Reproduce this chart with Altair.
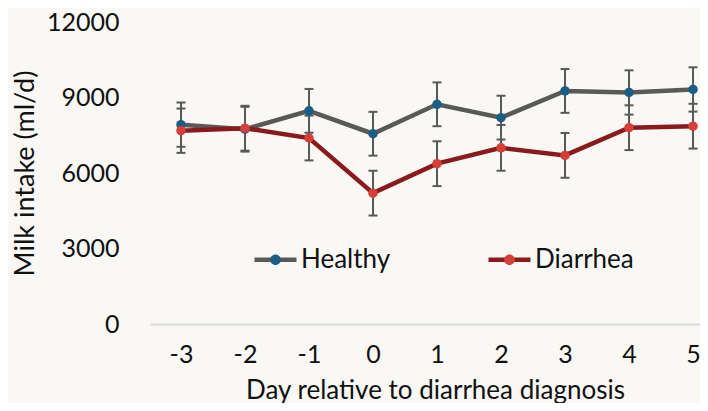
import altair as alt
import pandas as pd

days = [-3, -2, -1, 0, 1, 2, 3, 4, 5]
groups = ["Healthy", "Diarrhea"]
healthy_mean = [7920, 7740, 8470, 7560, 8730, 8200, 9260, 9200, 9320]
healthy_se = [880, 890, 870, 870, 870, 870, 870, 880, 880]
diarrhea_mean = [7680, 7780, 7390, 5200, 6370, 7000, 6700, 7800, 7860]
diarrhea_se = [880, 890, 890, 890, 890, 910, 890, 890, 890]
y_ticks = [0, 3000, 6000, 9000, 12000]

line_colors = ["#595959", "#8B1A1C"]
point_colors = ["#1B5E85", "#D43F3A"]
FONT = "Lato"
FS = 25
TFS = 26
TXT = "#111111"

rows = []
for g, means, ses in [("Healthy", healthy_mean, healthy_se),
                      ("Diarrhea", diarrhea_mean, diarrhea_se)]:
    for d, m, s in zip(days, means, ses):
        rows.append({"day": d, "group": g, "group_f": g, "mean": m, "se": s})
df = pd.DataFrame(rows)

base = alt.Chart(df).transform_calculate(
    lo="datum.mean - datum.se", hi="datum.mean + datum.se"
)

x = alt.X(
    "day:Q",
    scale=alt.Scale(domain=[-3.484, 5.109], nice=False, zero=False),
    axis=alt.Axis(
        values=days, labelExpr="'' + datum.value", title="Day relative to diarrhea diagnosis",
        grid=False, ticks=False, tickSize=0, domainColor="#D9D9D9", domainWidth=2,
        labelFont=FONT, labelFontSize=FS, labelColor=TXT, labelPadding=18,
        titleFont=FONT, titleFontSize=TFS, titleFontWeight="normal", titleColor=TXT,
        titleX=285, titleY=74, titleBaseline="alphabetic", titleAnchor="middle",
    ),
)
yscale = alt.Scale(domain=[0, 12000], nice=False, zero=True)
yaxis = alt.Axis(
    values=y_ticks, labelExpr="'' + datum.value", title="Milk intake (ml/d)", grid=False,
    ticks=False, tickSize=0, domain=False,
    labelFont=FONT, labelFontSize=FS, labelColor=TXT, labelPadding=31,
    titleFont=FONT, titleFontSize=TFS + 1, titleFontWeight="normal", titleColor=TXT,
    titleX=-125, titleY=151, titleBaseline="middle", titleAngle=-90, titleAlign="center",
)

err = base.mark_rule(color="#595959", strokeWidth=2).encode(
    x=x, y=alt.Y("lo:Q", scale=yscale, axis=yaxis), y2="hi:Q"
)
cap_lo = base.mark_tick(color="#595959", orient="horizontal", size=9, thickness=2, opacity=1).encode(
    x=x, y=alt.Y("lo:Q", scale=yscale)
)
cap_hi = base.mark_tick(color="#595959", orient="horizontal", size=9, thickness=2, opacity=1).encode(
    x=x, y=alt.Y("hi:Q", scale=yscale)
)

LINE_SYM = "M-1,0H1"
DOT_SYM = "M-1,0H1M0.25,0A0.25,0.25,0,1,1,-0.25,0A0.25,0.25,0,1,1,0.25,0Z"
common_leg = dict(
    orient="none", legendX=102, legendY=214, direction="horizontal", columns=2,
    title=None, symbolSize=1764, symbolStrokeWidth=4.5, labelFont=FONT,
    labelFontSize=TFS, labelOffset=2, columnPadding=88, padding=0,
)

lines = alt.Chart(df).mark_line(strokeWidth=4.5).encode(
    x=x, y=alt.Y("mean:Q", scale=yscale),
    color=alt.Color("group:N", sort=groups, scale=alt.Scale(range=line_colors),
                    legend=alt.Legend(symbolType=LINE_SYM, labelColor=TXT,
                                      symbolFillColor="transparent", **common_leg)),
)
points = alt.Chart(df).mark_circle(size=90, opacity=1).encode(
    x=x, y=alt.Y("mean:Q", scale=yscale),
    fill=alt.Fill("group_f:N", sort=groups, scale=alt.Scale(range=point_colors),
                  legend=alt.Legend(symbolType=DOT_SYM, labelOpacity=0,
                                    symbolStrokeColor="transparent", symbolOpacity=1,
                                    **common_leg)),
)

chart = alt.layer(err, cap_lo, cap_hi, lines, points).properties(
    width=550, height=302,
    padding={"left": 142, "top": 14, "right": 0, "bottom": 79},
    autosize=alt.AutoSizeParams(type="none"),
    background="#F9F8F5",
).configure_view(stroke=None)

chart.save("out.html", embed_options={"renderer": "svg", "actions": False})
